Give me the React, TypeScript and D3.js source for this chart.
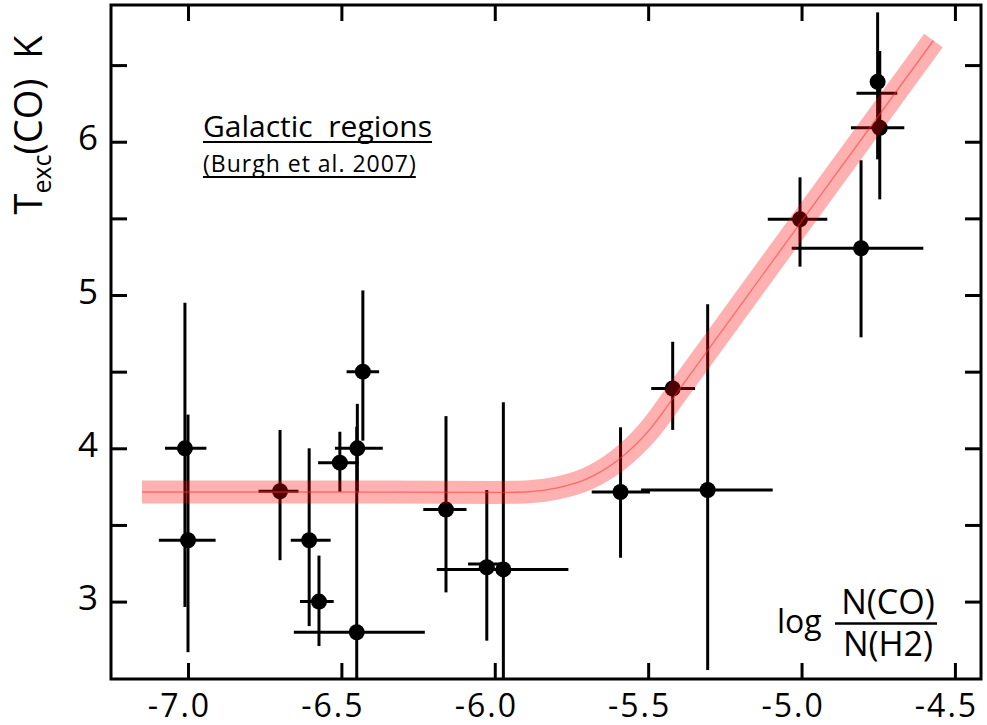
import React, { useEffect, useRef } from "react";
import * as d3 from "d3";

// Burgh et al. 2007 galactic sight lines: log N(CO)/N(H2) vs Texc(CO)
const pointX = [-7.01, -7.0, -6.7, -6.605, -6.573, -6.505, -6.448, -6.45, -6.43, -6.159, -6.026, -5.972, -5.59, -5.42, -5.306, -4.752, -4.745, -5.005, -4.806];
const pointY = [4.0, 3.4, 3.72, 3.4, 3.0, 3.906, 4.0, 2.8, 4.5, 3.6, 3.224, 3.21, 3.715, 4.39, 3.728, 6.391, 6.091, 5.494, 5.305];
const xLow = [-7.075, -7.095, -6.77, -6.665, -6.635, -6.576, -6.521, -6.655, -6.483, -6.233, -6.087, -6.189, -5.684, -5.49, -5.523, -4.821, -4.839, -5.11, -5.032];
const xHigh = [-6.94, -6.91, -6.64, -6.535, -6.525, -6.443, -6.365, -6.228, -6.377, -6.092, -5.97, -5.76, -5.494, -5.347, -5.094, -4.688, -4.665, -4.916, -4.603];
const yLow = [2.965, 2.67, 3.27, 2.84, 2.71, 3.717, 3.71, 2.3, 4.05, 3.06, 2.745, 2.3, 3.286, 4.12, 2.554, 5.885, 5.624, 5.185, 4.724];
const yHigh = [4.95, 4.22, 4.12, 4.0, 3.3, 4.108, 4.29, 4.14, 5.03, 4.21, 3.728, 4.3, 4.137, 4.695, 4.94, 6.844, 6.592, 5.768, 5.879];
// level at which the horizontal bar is drawn (one bar sits a bit off its dot)
const xBarY = [4.0, 3.4, 3.72, 3.4, 3.0, 3.906, 4.0, 2.8, 4.5, 3.6, 3.245, 3.21, 3.715, 4.39, 3.728, 6.316, 6.091, 5.494, 5.305];

// model curve
const curveX = [-7.15, -6.5, -6.0, -5.9, -5.8, -5.7, -5.6, -5.5, -5.4, -5.3, -5.0, -4.57];
const curveY = [3.715, 3.715, 3.712, 3.715, 3.74, 3.8, 3.92, 4.11, 4.38, 4.655, 5.48, 6.66];

const xTicks = [-7.0, -6.5, -6.0, -5.5, -5.0, -4.5];
const yTicks = [3, 3.5, 4, 4.5, 5, 5.5, 6, 6.5];

const App = () => {
  const svgRef = useRef<SVGSVGElement>(null);

  useEffect(() => {
    const width = 987;
    const height = 725;
    const left = 111, right = 981, top = 5, bottom = 679;
    const font = "'Open Sans', sans-serif";

    const svg = d3.select(svgRef.current).attr("width", width).attr("height", height);
    svg.selectAll("*").remove();

    const x = d3.scaleLinear().domain([-7.251, -4.415]).range([left, right]);
    const y = d3.scaleLinear().domain([2.495, 6.892]).range([bottom, top]);

    svg
      .append("defs")
      .append("clipPath")
      .attr("id", "plot-clip")
      .append("rect")
      .attr("x", left)
      .attr("y", top)
      .attr("width", right - left)
      .attr("height", bottom - top);

    const plot = svg.append("g").attr("clip-path", "url(#plot-clip)");

    const pts = pointX.map((v, i) => ({
      x: v,
      y: pointY[i],
      xlo: xLow[i],
      xhi: xHigh[i],
      ylo: yLow[i],
      yhi: yHigh[i],
      by: xBarY[i],
    }));

    // vertical error bars
    plot
      .selectAll("line.ey")
      .data(pts)
      .join("line")
      .attr("class", "ey")
      .attr("x1", (d) => x(d.x))
      .attr("x2", (d) => x(d.x))
      .attr("y1", (d) => y(d.ylo))
      .attr("y2", (d) => y(d.yhi))
      .attr("stroke", "#000")
      .attr("stroke-width", 3);

    // horizontal error bars
    plot
      .selectAll("line.ex")
      .data(pts)
      .join("line")
      .attr("class", "ex")
      .attr("x1", (d) => x(d.xlo))
      .attr("x2", (d) => x(d.xhi))
      .attr("y1", (d) => y(d.by))
      .attr("y2", (d) => y(d.by))
      .attr("stroke", "#000")
      .attr("stroke-width", 3);

    plot
      .selectAll("circle")
      .data(pts)
      .join("circle")
      .attr("cx", (d) => x(d.x))
      .attr("cy", (d) => y(d.y))
      .attr("r", 8)
      .attr("fill", "#000");

    // translucent model band on top of the points
    const curvePts: [number, number][] = curveX.map((v, i) => [v, curveY[i]]);
    const line = d3
      .line<[number, number]>()
      .x((d) => x(d[0]))
      .y((d) => y(d[1]))
      .curve(d3.curveMonotoneX);

    plot
      .append("path")
      .attr("d", line(curvePts))
      .attr("fill", "none")
      .attr("stroke", "#ff0000")
      .attr("stroke-opacity", 0.31)
      .attr("stroke-width", 23);

    plot
      .append("path")
      .attr("d", line(curvePts))
      .attr("fill", "none")
      .attr("stroke", "#ff3030")
      .attr("stroke-opacity", 0.55)
      .attr("stroke-width", 1.3);

    // axes, ticks pointing inward
    const styleTicks = (g) => {
      g.select(".domain").remove();
      g.selectAll("line").attr("stroke", "#000").attr("stroke-width", 3);
    };

    const gx = svg
      .append("g")
      .attr("transform", `translate(0,${bottom})`)
      .call(d3.axisBottom(x).tickValues(xTicks).tickSize(-16).tickFormat((d) => (+d).toFixed(1)));
    styleTicks(gx);
    gx.selectAll("text")
      .attr("y", 38)
      .attr("dy", null)
      .attr("dx", -9)
      .attr("font-size", 32)
      .attr("font-family", font)
      .attr("letter-spacing", 2)
      .attr("fill", "#000");

    const gt = svg
      .append("g")
      .attr("transform", `translate(0,${top})`)
      .call(d3.axisTop(x).tickValues(xTicks).tickSize(-16).tickFormat(() => ""));
    styleTicks(gt);

    const gy = svg
      .append("g")
      .attr("transform", `translate(${left},0)`)
      .call(d3.axisLeft(y).tickValues(yTicks).tickSize(-16).tickFormat((d) => (Number.isInteger(+d) ? String(d) : "")));
    styleTicks(gy);
    gy.selectAll("text")
      .attr("x", -13)
      .attr("dy", 8)
      .attr("font-size", 35)
      .attr("font-family", font)
      .attr("fill", "#000");

    const gr = svg
      .append("g")
      .attr("transform", `translate(${right},0)`)
      .call(d3.axisRight(y).tickValues(yTicks).tickSize(-16).tickFormat(() => ""));
    styleTicks(gr);

    svg
      .append("rect")
      .attr("x", left)
      .attr("y", top)
      .attr("width", right - left)
      .attr("height", bottom - top)
      .attr("fill", "none")
      .attr("stroke", "#000")
      .attr("stroke-width", 3);

    // y axis title
    const yt = svg
      .append("text")
      .attr("transform", "translate(42,125) rotate(-90)")
      .attr("text-anchor", "middle")
      .attr("font-family", font)
      .attr("font-size", 38)
      .style("white-space", "pre");
    yt.append("tspan").text("T");
    yt.append("tspan").attr("font-size", 25).attr("dy", 9).text("exc");
    yt.append("tspan").attr("dy", -9).text("(CO)  K");

    // annotation
    const t1 = svg
      .append("text")
      .attr("x", 203)
      .attr("y", 137)
      .attr("font-family", font)
      .attr("font-size", 30)
      .style("white-space", "pre")
      .text("Galactic  regions");
    const l1 = (t1.node() as SVGTextElement).getComputedTextLength();
    svg.append("line").attr("x1", 203).attr("x2", 203 + l1).attr("y1", 142).attr("y2", 142).attr("stroke", "#000").attr("stroke-width", 2);

    const t2 = svg
      .append("text")
      .attr("x", 203)
      .attr("y", 172)
      .attr("font-family", font)
      .attr("font-size", 23)
      .attr("letter-spacing", 1)
      .text("(Burgh et al. 2007)");
    const l2 = (t2.node() as SVGTextElement).getComputedTextLength();
    svg.append("line").attr("x1", 203).attr("x2", 203 + l2 - 1).attr("y1", 177).attr("y2", 177).attr("stroke", "#000").attr("stroke-width", 2);

    // x axis label as a fraction
    svg.append("text").attr("x", 777).attr("y", 633).attr("font-family", font).attr("font-size", 32).text("log");
    svg.append("text").attr("x", 888).attr("y", 614).attr("text-anchor", "middle").attr("font-family", font).attr("font-size", 34).text("N(CO)");
    svg.append("line").attr("x1", 835).attr("x2", 937).attr("y1", 623.5).attr("y2", 623.5).attr("stroke", "#000").attr("stroke-width", 2.5);
    svg.append("text").attr("x", 888).attr("y", 656).attr("text-anchor", "middle").attr("font-family", font).attr("font-size", 34).text("N(H2)");
  }, []);

  return (
    <svg
      ref={svgRef}
      style={{ position: "absolute", left: 0, top: 0, display: "block", background: "#fff" }}
    ></svg>
  );
};

export default App;
